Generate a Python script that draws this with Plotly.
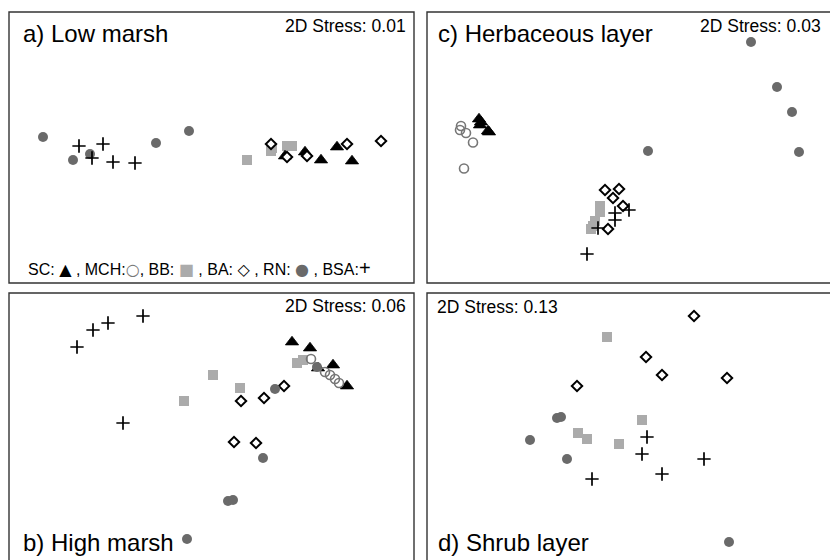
import plotly.graph_objects as go

W, H = 830, 560

# ---- data: NMDS ordination scores (panel units, y downward) ----
groups = ["SC", "MCH", "BB", "BA", "RN", "BSA"]

# a) Low marsh
a_SC_x = [276, 296, 312, 328, 343]; a_SC_y = [144, 140, 148, 135, 149]
a_BB_x = [238, 262, 263, 278, 283]; a_BB_y = [148, 139, 136, 134, 134]
a_BA_x = [262, 278, 298, 338, 372]; a_BA_y = [132, 145, 144, 132, 129]
a_RN_x = [34, 64, 81, 147, 180];    a_RN_y = [125, 148, 142, 131, 119]
a_BSA_x = [70, 94, 83, 104, 126];   a_BSA_y = [134, 132, 146, 150, 151]

# c) Herbaceous layer
c_RN_x = [324, 350, 365, 372, 221]; c_RN_y = [30, 75, 100, 140, 139]
c_MCH_x = [34, 33, 39, 46, 37];     c_MCH_y = [114, 118, 121, 130.5, 156.5]
c_SC_x = [52, 54, 53, 61, 62];      c_SC_y = [107, 110, 113, 119, 120]
c_BA_x = [178, 192, 186, 196, 181]; c_BA_y = [178, 177, 186, 194, 217]
c_BB_x = [173, 173, 168, 164, 166]; c_BB_y = [194, 200, 209, 217, 214]
c_BSA_x = [202, 188, 188, 171, 160]; c_BSA_y = [198, 201, 208, 216, 242]

# b) High marsh
b_BSA_x = [68, 84, 99, 134, 114];   b_BSA_y = [54, 37, 30, 23, 130]
b_BB_x = [175, 204, 231, 288, 294]; b_BB_y = [108, 82, 95, 70, 67]
b_BA_x = [232, 255, 275, 225, 247]; b_BA_y = [108, 105, 93, 149, 150]
b_RN_x = [266, 308, 254, 219, 224, 178]; b_RN_y = [96, 74, 165, 208, 207, 246]
b_SC_x = [283, 301, 324, 338, 309]; b_SC_y = [49, 55, 72, 93, 75]
b_MCH_x = [302, 316, 321, 326, 330]; b_MCH_y = [66, 79, 82, 86, 90]

# d) Shrub layer
d_BA_x = [267, 219, 235, 300, 150]; d_BA_y = [23, 64, 82, 85, 93]
d_BB_x = [180, 215, 151, 160, 192]; d_BB_y = [44, 127, 140, 146, 151]
d_RN_x = [130, 134, 103, 140, 302]; d_RN_y = [125, 124, 147, 166, 249]
d_BSA_x = [220, 215, 277, 235, 165]; d_BSA_y = [144, 161, 166, 181, 186]

titles = ["a) Low marsh", "c) Herbaceous layer", "b) High marsh", "d) Shrub layer"]
stress = ["2D Stress: 0.01", "2D Stress: 0.03", "2D Stress: 0.06", "2D Stress: 0.13"]

# ---- styles ----
style = {
    "BB": dict(symbol="square", size=10, color="#ababab", line=dict(width=0)),
    "SC": dict(symbol="triangle-up", size=11.5, color="black", line=dict(width=0.8, color="black")),
    "BA": dict(symbol="diamond", size=8, color="white", line=dict(width=2, color="black")),
    "RN": dict(symbol="circle", size=10, color="#6a6a6a", line=dict(width=0)),
    "MCH": dict(symbol="circle-open", size=9, color="#777777", line=dict(width=1.6, color="#777777")),
    "BSA": dict(symbol="cross-thin-open", size=9.5, color="black", line=dict(width=1.7, color="black")),
}
draw_order = ["BB", "SC", "BA", "RN", "MCH", "BSA"]

panels = [
    ("a", 9, 12, 405, 271, {"SC": (a_SC_x, a_SC_y), "BB": (a_BB_x, a_BB_y), "BA": (a_BA_x, a_BA_y),
                            "RN": (a_RN_x, a_RN_y), "BSA": (a_BSA_x, a_BSA_y)}),
    ("c", 427, 12, 403, 271, {"RN": (c_RN_x, c_RN_y), "MCH": (c_MCH_x, c_MCH_y), "SC": (c_SC_x, c_SC_y),
                              "BA": (c_BA_x, c_BA_y), "BB": (c_BB_x, c_BB_y), "BSA": (c_BSA_x, c_BSA_y)}),
    ("b", 9, 293, 405, 267, {"BSA": (b_BSA_x, b_BSA_y), "BB": (b_BB_x, b_BB_y), "BA": (b_BA_x, b_BA_y),
                             "RN": (b_RN_x, b_RN_y), "SC": (b_SC_x, b_SC_y), "MCH": (b_MCH_x, b_MCH_y)}),
    ("d", 427, 293, 403, 267, {"BA": (d_BA_x, d_BA_y), "BB": (d_BB_x, d_BB_y), "RN": (d_RN_x, d_RN_y),
                               "BSA": (d_BSA_x, d_BSA_y)}),
]

fig = go.Figure()
layout = dict(width=W, height=H, margin=dict(l=0, r=0, t=0, b=0),
              paper_bgcolor="white", plot_bgcolor="rgba(0,0,0,0)", showlegend=False)
shapes = []
annotations = []

def px(x):
    return x / W

def py(y):
    return 1 - y / H

for i, (name, L, T, Wp, Hp, data) in enumerate(panels):
    k = "" if i == 0 else str(i + 1)
    xa, ya = "x" + k, "y" + k
    layout["xaxis" + k] = dict(domain=[px(L), min(1, px(L + Wp))], range=[0, Wp], visible=False,
                               anchor=ya, fixedrange=True)
    layout["yaxis" + k] = dict(domain=[max(0, py(T + Hp)), py(T)], range=[Hp, 0], visible=False,
                               anchor=xa, fixedrange=True)
    for g in draw_order:
        if g in data:
            xs, ys = data[g]
            st = style[g]
            fig.add_trace(go.Scatter(x=xs, y=ys, mode="markers", xaxis=xa, yaxis=ya, name=g,
                                     marker=dict(symbol=st["symbol"], size=st["size"], color=st["color"],
                                                 line=st["line"]), cliponaxis=False))
    x1 = px(L + Wp) if L + Wp < W else 1.05
    y0 = py(T + Hp) if T + Hp < H else -0.05
    shapes.append(dict(type="rect", xref="paper", yref="paper", x0=px(L), x1=x1, y0=y0, y1=py(T),
                       line=dict(color="#333333", width=1.4), layer="above"))

font = "Liberation Sans, Arial, Helvetica, sans-serif"
title_pos = [(21, 33), (436, 33), (21, 542), (436, 542)]
for t, (x, y) in zip(titles, title_pos):
    annotations.append(dict(text=t, x=px(x), y=py(y), xref="paper", yref="paper", xanchor="left",
                            yanchor="middle", showarrow=False, font=dict(family=font, size=24, color="black")))
stress_pos = [(408, 26, "right"), (823, 26, "right"), (408, 306, "right"), (435, 307, "left")]
for s, (x, y, anc) in zip(stress, stress_pos):
    annotations.append(dict(text=s, x=px(x), y=py(y), xref="paper", yref="paper", xanchor=anc,
                            yanchor="middle", showarrow=False, font=dict(family=font, size=17.5, color="black")))

sym = "font-family:DejaVu Sans"
legend_txt = (f"SC: <span style='{sym}'>▲</span> , MCH:<span style='color:#777777;{sym}'>○</span>, "
              f"BB: <span style='color:#ababab;{sym}'>■</span> , BA: <span style='{sym};font-weight:bold'>◇</span> , "
              f"RN: <span style='color:#6a6a6a;{sym}'>●</span> , BSA:<span style='font-size:20px'>+</span>")
annotations.append(dict(text=legend_txt, x=px(26), y=py(268), xref="paper", yref="paper", xanchor="left",
                        yanchor="middle", showarrow=False, font=dict(family=font, size=16, color="black")))

layout["shapes"] = shapes
layout["annotations"] = annotations
fig.update_layout(**layout)
fig.write_html("out.html", config={"displayModeBar": False, "staticPlot": True},
               post_script="document.body.style.margin='0px';document.body.style.padding='0px';")
